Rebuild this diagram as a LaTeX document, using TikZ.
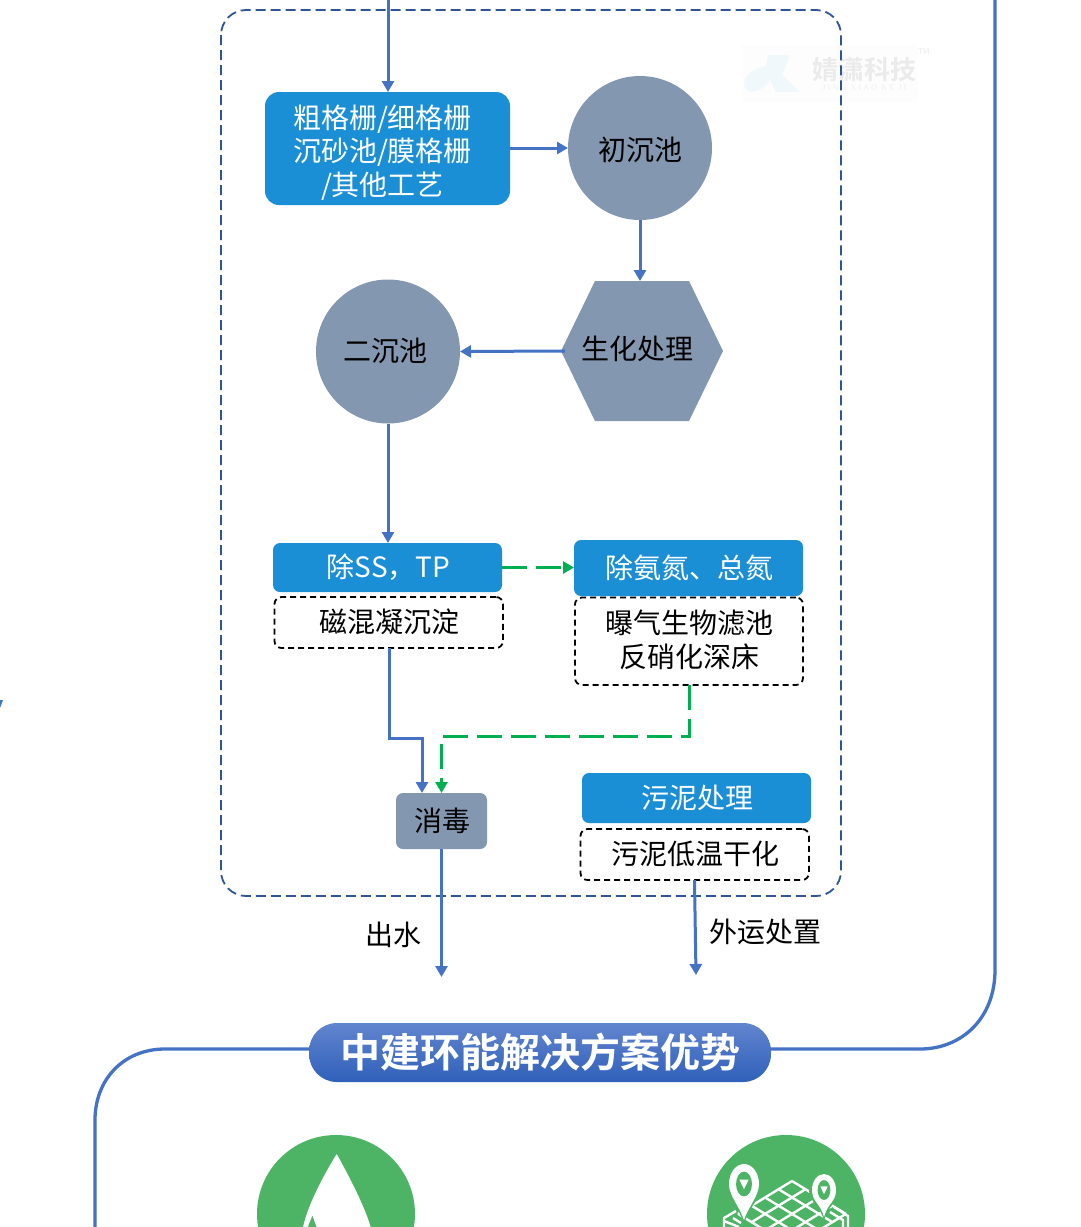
\documentclass[tikz,border=0pt]{standalone}
\usepackage{fontspec}
\usetikzlibrary{arrows.meta,shapes.geometric,calc}
\setmainfont{Noto Sans CJK SC}
\newfontfamily\cjkbold[BoldFont={Noto Sans CJK SC Bold}]{Noto Sans CJK SC}
\newfontfamily\markserif[LetterSpace=22]{Liberation Serif}
\definecolor{flow}{HTML}{4472C4}
\definecolor{frameblue}{HTML}{2F5597}
\definecolor{stage}{HTML}{1B8FD6}
\definecolor{slate}{HTML}{8497B0}
\definecolor{greenflow}{HTML}{00B050}
\definecolor{badge}{HTML}{4CB464}
\definecolor{bannertop}{HTML}{6285CE}
\definecolor{bannerbottom}{HTML}{2F60BA}
\tikzset{
  x=1pt,y=-1pt,
  every node/.style={inner sep=0pt,outer sep=0pt,align=center,font=\fontsize{28}{33.5}\selectfont},
  stagebox/.style={fill=stage,rounded corners=#1,text=white},
  stagebox/.default=7pt,
  methodbox/.style={draw=black,line width=1.8pt,dash pattern=on 6pt off 4pt,rounded corners=7pt},
  tank/.style={circle,fill=slate,minimum size=144pt},
  pipe/.style={draw=flow,line width=3pt,-{Triangle[length=11pt,width=12pt]}},
  recycle/.style={draw=greenflow,line width=3pt,dash pattern=on 25pt off 9pt,-{Triangle[length=11pt,width=12pt]}},
  route/.style={draw=flow,line width=3.3pt},
  gridline/.style={white,line width=2.4pt},
}
% Rectangular node given by its left, top, right and bottom edges
\newcommand{\boxat}[7][]{%
  \node[#2,minimum width=#5-#3,minimum height=#6-#4,#1] (#7) at ({(#3+#5)/2},{(#4+#6)/2}) {};}
% Location pin: x, top, half width, tip, height of the upper half
\newcommand{\mappin}[5]{%
  \fill[badge] (#1,#4+4) .. controls (#1-#3*0.3,#4-12) and (#1-#3-3,#2+#5+12) .. (#1-#3-3,#2+#5)
    arc[start angle=180,end angle=360,x radius=#3+3,y radius=#5+3]
    .. controls (#1+#3+3,#2+#5+12) and (#1+#3*0.3,#4-12) .. (#1,#4+4) -- cycle;
  \fill[white] (#1,#4) .. controls (#1-#3*0.3,#4-14) and (#1-#3,#2+#5+12) .. (#1-#3,#2+#5)
    arc[start angle=180,end angle=360,x radius=#3,y radius=#5]
    .. controls (#1+#3,#2+#5+12) and (#1+#3*0.3,#4-14) .. (#1,#4) -- cycle;
  \fill[badge] (#1,#2+#5) ellipse[x radius=#3*0.53,y radius=#5*0.62];
  \fill[white] (#1-#3*0.31,#2+#5-#5*0.22) -- (#1+#3*0.31,#2+#5-#5*0.22) -- (#1,#2+#5+#5*0.26) -- cycle;}
\begin{document}
\begin{tikzpicture}
\useasboundingbox (0,0) rectangle (1080,1227);
\clip (0,0) rectangle (1080,1227);
\fill[white] (0,0) rectangle (1080,1227);

% Faint company mark behind the treatment frame
\fill[black!0.8] (742,45) rectangle (918,103);
\fill[stage!6] (768,55) -- (790,55) -- (782,75) -- (800,92) -- (776,92) -- (770,80)
  .. controls (762,94) and (744,95) .. (744,84) .. controls (744,74) and (756,68) .. (766,66) -- cycle;
\node[text=black!8,font=\fontsize{26}{26}\selectfont\cjkbold\bfseries] (markname) at (864.500,70) {婧潇科技};
\node[text=black!6,font=\fontsize{8.500}{8.500}\selectfont\markserif] (markpinyin) at (864.500,87.500) {JING XIAO KE JI};
\node[text=black!8,font=\fontsize{8}{8}\selectfont] (marktm) at (924,52) {TM};

% Treatment frame
\draw[frameblue,line width=1.8pt,dash pattern=on 10pt off 5pt,rounded corners=25pt] (221,10) rectangle (841,896);

% Sweeping border lines joined to the banner
\coordinate (rightstart) at (995,0);
\coordinate (leftend) at (95,1227);

% Section banner
\node[minimum width=462pt,minimum height=59pt,rounded corners=28pt,
      top color=bannertop,bottom color=bannerbottom,
      text=white,font=\fontsize{40}{40}\selectfont\cjkbold\bfseries] (banner) at (540,1052.500) {中建环能解决方案优势};
\draw[route] (rightstart) -- (995,970) .. controls (995,1018) and (962,1049) .. (920,1049) -- (banner.east |- 0,1049);
\draw[route] (banner.west |- 0,1049) -- (165,1049) .. controls (123,1049) and (95,1080) .. (95,1120) -- (leftend);

% Pretreatment and biological stages
\boxat[stagebox=14pt]{stagebox}{265}{92}{510}{205}{screen}
\node[text=white] (screentext) at (382.500,152.500) {粗格栅/细格栅\\沉砂池/膜格栅\\/其他工艺};
\node[tank] (primary) at (640,148) {};
\node (primarytext) at (640,150) {初沉池};
\fill[slate] (595,281) -- (689,281) -- (723,351) -- (689,421) -- (595,421) -- (561,351) -- cycle;
\coordinate (biowest) at (565,351);
\coordinate (biotop) at (640,281);
\node (biotext) at (637,349) {生化处理};
\node[tank] (secondary) at (388,351.500) {};
\node (secondarytext) at (385,351) {二沉池};

% Advanced treatment stages
\boxat{stagebox}{273}{543}{502}{592}{ss}
\node[text=white] (sstext) at (388.500,567.500) {除SS，TP};
\boxat{methodbox}{274.500}{597}{503}{648}{mag}
\node (magtext) at (389,621.500) {磁混凝沉淀};
\boxat{stagebox}{574}{540}{803}{596}{nitro}
\node[text=white] (nitrotext) at (689,567.500) {除氨氮、总氮};
\boxat{methodbox}{575}{597.500}{803}{685}{baf}
\node (baftext) at (689,640) {曝气生物滤池\\反硝化深床};
\boxat[rounded corners=7pt]{fill=slate}{396}{793}{487}{849}{disinfect}
\node (disinfecttext) at (442,820.500) {消毒};
\boxat{stagebox}{582}{773}{811}{823}{sludge}
\node[text=white] (sludgetext) at (697,797.500) {污泥处理};
\boxat{methodbox}{580.500}{829}{809}{880}{dry}
\node (drytext) at (695,853.500) {污泥低温干化};

% Free ends and labels of the outlets
\coordinate (inlet) at (388,0);
\coordinate (water) at (441.500,977);
\coordinate (haul) at (696,975);
\node (waterlabel) at (393,935) {出水};
\node (haullabel) at (765,932) {外运处置};

% Connectors
\draw[pipe] (inlet) -- (388,92);
\draw[pipe] (510,148) -- (primary.west);
\draw[pipe] (primary.south) -- (biotop);
\draw[pipe] (biowest) -- (secondary.east);
\draw[pipe] (secondary.south) -- (388,543);
\draw[recycle] (ss.east) -- (nitro.west |- ss.east);
\draw[pipe] (389,648) -- (389,738.500) -- (422,738.500) -- (422,793);
\draw[recycle] (baf.south) -- (689,736) -- (441.500,736) -- (441.500,793);
\draw[pipe] (disinfect.south) -- (water);
\draw[pipe] (694.500,880) -- (haul);

% Left badge: droplet with a leaf
\node[circle,fill=badge,minimum size=158pt] (dropbadge) at (336,1214) {};
\fill[white] (336.700,1154) .. controls (322,1178) and (308,1205) .. (303,1227)
  -- (370.700,1227) .. controls (364,1205) and (350,1178) .. (336.700,1154) -- cycle;
\fill[badge] (312.500,1216) .. controls (310.500,1220) and (309,1224) .. (308,1227) -- (316.500,1227) .. controls (315,1223) and (314,1220) .. (312.500,1216) -- cycle;

% Right badge: map grid with two location pins
\node[circle,fill=badge,minimum size=158pt] (mapbadge) at (786,1214) {};
\foreach \i in {0,...,4}{
  \draw[gridline] ($(792,1181)+\i*(-13.500,8.200)$) -- ++(54,33);
  \draw[gridline] ($(792,1181)+\i*(13.500,8.200)$) -- ++(-54,33);
}
\draw[gridline,line join=round] (724,1227) -- (724,1218) -- (736,1211);
\draw[gridline] (724,1221) -- (739,1227);
\draw[gridline] (733,1218) -- (741,1223);
\draw[gridline,line join=round] (834,1207) -- (848,1216) -- (848,1227);
\draw[gridline] (830,1212) -- (843,1220) -- (843,1227);
\mappin{744}{1164}{15}{1220}{20}
\mappin{824}{1174}{12}{1217}{16}

% Tip of a connector at the left edge
\fill[flow] (0,700) -- (3,700) -- (0,708) -- cycle;
\end{tikzpicture}
\end{document}
